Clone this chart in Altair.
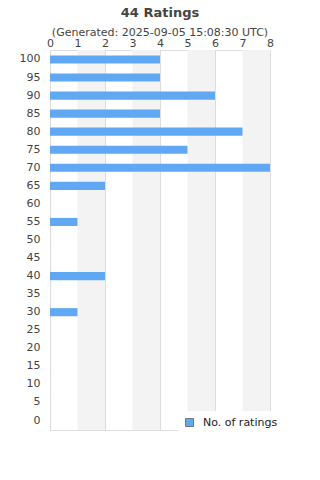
import altair as alt
import pandas as pd

scores = ["100", "95", "90", "85", "80", "75", "70", "65", "60", "55", "50",
          "45", "40", "35", "30", "25", "20", "15", "10", "5", "0"]
counts = [4, 4, 6, 4, 7, 5, 8, 2, 0, 1, 0, 0, 2, 0, 1, 0, 0, 0, 0, 0, 0]
band_start = [1, 3, 5, 7]
band_end = [2, 4, 6, 8]
x_ticks = [0, 1, 2, 3, 4, 5, 6, 7, 8]

W, H = 220, 380
FONT = "DejaVu Sans"

df = pd.DataFrame({"score": scores, "count": counts, "series": "No. of ratings"})
bands = pd.DataFrame({"x0": band_start, "x1": band_end})

xscale = alt.Scale(domain=[0, 8], nice=False)
xaxis = alt.Axis(orient="top", values=x_ticks, tickCount=9, format="d", title=None,
                 grid=True, gridColor="#dddddd", ticks=False, domain=False,
                 labelOverlap=False, labelFlush=False,
                 labelFont=FONT, labelFontSize=11, labelColor="#444",
                 labelPadding=2)

bg = alt.Chart(bands).mark_rect(color="#f3f3f3").encode(
    x=alt.X("x0:Q", scale=xscale, axis=xaxis),
    x2="x1:Q",
    y=alt.value(0),
    y2=alt.value(H),
)

bars = alt.Chart(df).mark_bar().encode(
    x=alt.X("count:Q", scale=xscale, axis=xaxis),
    y=alt.Y("score:N", sort=scores,
            scale=alt.Scale(paddingInner=0.55, paddingOuter=0.3),
            axis=alt.Axis(title=None, ticks=False, domain=False,
                          labelFont=FONT, labelFontSize=11, labelColor="#444",
                          labelPadding=10)),
    color=alt.Color("series:N",
                    scale=alt.Scale(domain=["No. of ratings"], range=["#61a8f4"]),
                    legend=alt.Legend(orient="none", legendX=128, legendY=361,
                                      title=None, fillColor="white", padding=6,
                                      symbolType="square", symbolSize=64,
                                      symbolStrokeColor="#777", symbolStrokeWidth=1,
                                      labelFont=FONT, labelFontSize=11,
                                      labelColor="#222", labelOffset=8)),
)

chart = alt.layer(bg, bars).properties(
    width=W, height=H,
    title=alt.TitleParams("44 Ratings",
                          subtitle="(Generated: 2025-09-05 15:08:30 UTC)",
                          font=FONT, fontSize=13, fontWeight="bold", color="#444",
                          subtitleFont=FONT, subtitleFontSize=11, subtitleColor="#444",
                          anchor="middle", offset=-1, subtitlePadding=7),
    autosize="none",
    padding={"left": 50, "top": 50, "right": 50, "bottom": 50},
).configure_view(stroke="#dddddd", strokeWidth=1).configure(background="white")

chart.save("out.html", embed_options={"renderer": "svg", "actions": False})
